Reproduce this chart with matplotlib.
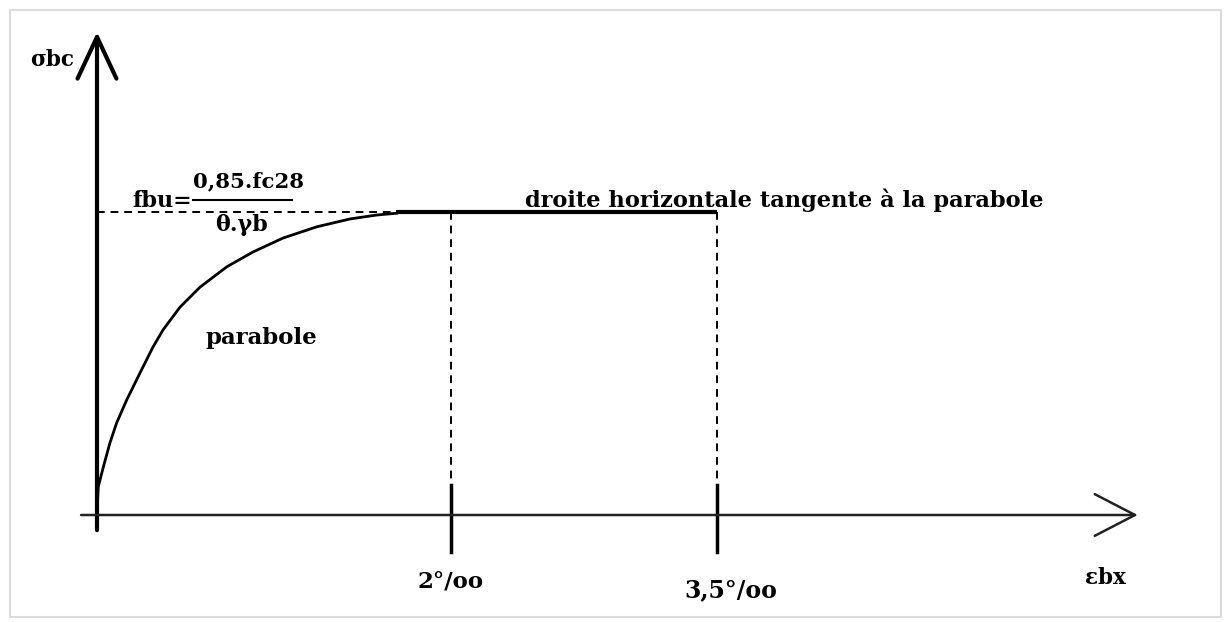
import matplotlib
matplotlib.use('Agg')
from matplotlib import pyplot as plt
from matplotlib.patches import Rectangle

# parabola (x in per mille, y relative to fbu)
eps_curve = [0.0, 0.007, 0.036, 0.073, 0.111, 0.168, 0.243, 0.316, 0.373, 0.469, 0.582,
             0.733, 0.881, 1.051, 1.241, 1.429, 1.580, 1.693]
sig_curve = [0.0, 0.093, 0.159, 0.238, 0.304, 0.380, 0.469, 0.554, 0.611, 0.686, 0.752,
             0.819, 0.868, 0.914, 0.951, 0.977, 0.990, 0.996]

# horizontal branch and the two marked strains
eps_plateau = [1.69, 3.5]
sig_plateau = [1.0, 1.0]
eps_marks = [2.0, 3.5]
mark_labels = ['2°/oo', '3,5°/oo']

W, H = 1226, 622
fig = plt.figure(figsize=(W / 100, H / 100), dpi=100)
ax = fig.add_axes([0, 0, 1, 1])
# pixel -> data: x = (px - 97) / 177, y = (515 - py) / 303
ax.set_xlim(-97 / 177, (W - 97) / 177)
ax.set_ylim((515 - H) / 303, 515 / 303)
ax.axis('off')

# light frame around the picture
fig.patches.append(Rectangle((10 / W, 5 / H), 1211 / W, 607 / H, transform=fig.transFigure,
                             fill=False, edgecolor='#dcdcdc', lw=1.5))

# axes with open arrow heads
ax.annotate('', xy=(0, 1.594), xytext=(0, -0.05),
            arrowprops=dict(arrowstyle='->, head_length=3.0, head_width=1.4', lw=3, color='black',
                            shrinkA=0, shrinkB=0))
ax.annotate('', xy=(5.88, 0), xytext=(-0.09, 0),
            arrowprops=dict(arrowstyle='->, head_length=2.9, head_width=1.5', lw=1.8, color='#222222',
                            shrinkA=0, shrinkB=0))

# curve
ax.plot(eps_curve, sig_curve, color='black', lw=2)
ax.plot(eps_plateau, sig_plateau, color='black', lw=3, solid_capstyle='butt')

# dashed guides
ax.plot([0, eps_plateau[0]], [1, 1], color='black', lw=1.4, ls=(0, (4, 3)))
for e in eps_marks:
    ax.plot([e, e], [1, 0.1], color='black', lw=1.4, ls=(0, (4, 3)))
    ax.plot([e, e], [0.1, -0.122], color='black', lw=2.5)

font = dict(family='DejaVu Serif', weight='bold', color='black')

def put(px, py, s, size, ha='center'):
    fig.text(px / W, 1 - py / H, s, ha=ha, va='center', fontsize=size, **font)

put(52, 60, 'σbc', 15.5)
put(192, 201, 'fbu=', 16, ha='right')
put(249, 181, '0,85.fc28', 15.3)
fig.add_artist(plt.Line2D([193 / W, 292 / W], [1 - 200 / H, 1 - 200 / H], color='black', lw=1.5))
put(241, 225, 'θ.γb', 16)
put(261, 338, 'parabole', 16.5)
put(525, 200, 'droite horizontale tangente à la parabole', 16.2, ha='left')
put(451, 582, mark_labels[0], 16.5)
put(731, 590, mark_labels[1], 17)
put(1105, 578, 'εbx', 15.5)

plt.savefig('out.png', dpi=100)
